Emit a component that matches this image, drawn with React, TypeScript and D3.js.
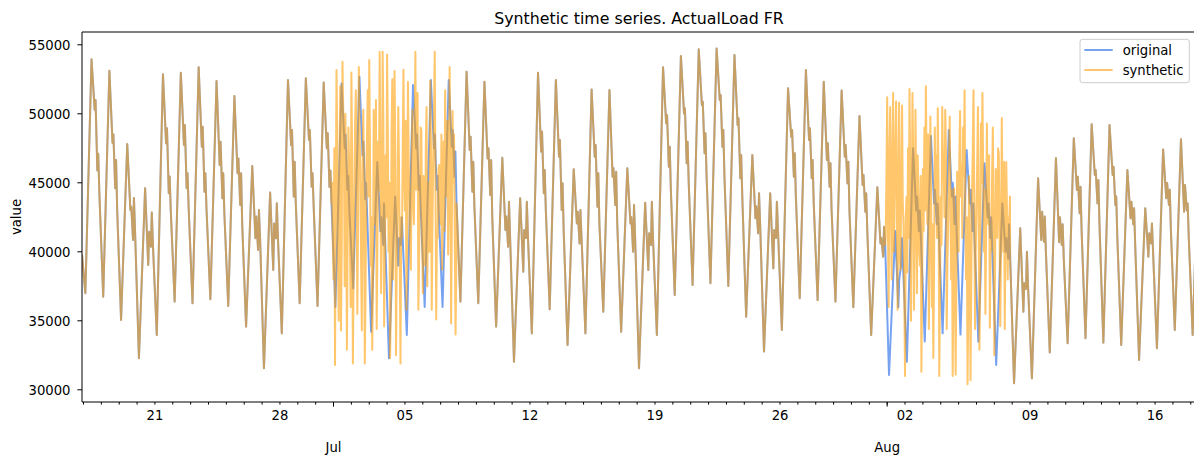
import React from "react";
import * as d3 from "d3";

// ---------------- data ----------------
const seriesStart = "2021-06-16T22:00:00Z";
const seriesEnd = "2021-08-18T07:00:00Z";
const firstDay = "2021-06-17T00:00:00Z";
const startValue = 39800;

// UTC hours of the read points inside each day: trough, peak, zig1 low, zig1 high, zig2 low, zig2 high, evening
const dayHours = [2.5, 10.8, 15, 16.2, 18.6, 19.8, 21.3];

// one entry per day, Jun 17 .. Aug 18 2021
const dayTroughs = [
  37000, 36750, 35060, 32280, 33970, 36390, 36270, 36560, 36080, 34580,
  31560, 34090, 36270, 36080, 36000, 37350, 34210, 32280, 33970, 36000,
  36000, 36390, 36270, 34580, 32040, 34090, 35830, 33250, 34090, 35660,
  34210, 31560, 33970, 36870, 37600, 37720, 37530, 35300, 32770, 34340,
  36630, 36500, 36390, 35980, 33970, 31070, 32040, 33500, 34090, 34000,
  33490, 31800, 30470, 30830, 32700, 33370, 33730, 33420, 33250, 32160,
  33010, 34340, 33970,
];
const dayPeaks = [
  53950, 53120, 47810, 44600, 52860, 52980, 53370, 52380, 51290, 46220,
  44290, 52450, 52570, 52260, 52200, 52690, 46500, 44000, 52090, 52450,
  52450, 53050, 52330, 46820, 43880, 52980, 52450, 45980, 51770, 51720,
  46050, 43560, 53370, 54190, 54670, 54740, 54260, 47020, 44240, 51850,
  53170, 52330, 51680, 49840, 44670, 41500, 47500, 48390, 48830, 47380,
  46410, 43500, 41700, 45330, 46800, 48220, 49240, 49190, 45930, 43150,
  47420, 48150, 48000,
];
const zig1Low = [
  50300, 47900, 43030, 39050, 47860, 47740, 47620, 46290, 45690, 40980,
  38680, 47740, 48100, 47500, 47500, 47000, 41500, 39000, 47500, 47500,
  47620, 47380, 46770, 41580, 38560, 47260, 46890, 42060, 46890, 45440,
  42060, 38680, 49310, 50030, 50640, 51000, 49190, 42430, 38800, 48340,
  48100, 46650, 46890, 44840, 40610, 35980, 43000, 43500, 44000, 43500,
  42500, 40000, 35660, 40860, 40700, 44480, 45570, 45570, 42430, 39650,
  43880, 42910, 44000,
];
const zig1High = [
  51000, 48500, 43270, 41460, 48950, 49190, 49070, 47980, 46770, 42550,
  42060, 48830, 48830, 48590, 48500, 48000, 42500, 41000, 48500, 48500,
  48830, 48340, 47500, 42550, 41580, 48710, 48100, 42910, 47740, 46050,
  42500, 41340, 49910, 50400, 50880, 51360, 49670, 43300, 41580, 48830,
  48950, 47860, 47740, 45570, 41000, 38000, 44000, 44500, 45000, 44500,
  43500, 41000, 37720, 42910, 42500, 45440, 45930, 46170, 43630, 41340,
  44980, 44840, 45000,
];
const zig2Low = [
  45900, 44600, 40860, 40370, 44240, 44600, 44360, 43880, 43400, 40130,
  40980, 44000, 44720, 44700, 44500, 43800, 40500, 40500, 44500, 44500,
  45450, 44360, 44120, 40370, 41000, 44240, 43030, 40610, 43270, 43390,
  40010, 40500, 46170, 46410, 47140, 47620, 45330, 41340, 41000, 45440,
  45330, 44720, 44960, 42910, 39650, 39000, 41500, 42000, 42000, 41500,
  41000, 39500, 37300, 40740, 40500, 42790, 43510, 43390, 42000, 40610,
  43400, 43000, 43000,
];
const zig2High = [
  47100, 46650, 43900, 42840, 45450, 45690, 45690, 45690, 45690, 43030,
  43510, 46530, 45690, 45900, 45500, 45000, 43500, 42500, 45500, 45500,
  47260, 46530, 46650, 43630, 43630, 45930, 44960, 43030, 45690, 45810,
  43390, 43630, 47620, 47980, 48590, 48830, 47020, 44240, 43630, 47140,
  46650, 46410, 46530, 44240, 41820, 41000, 43000, 43500, 44000, 43500,
  42500, 42000, 40010, 42550, 42000, 44720, 45200, 44000, 43150, 42060,
  44500, 43500, 44000,
];
const dayEvening = [
  44300, 43000, 41500, 40500, 43000, 43200, 43100, 42800, 42000, 41000,
  41000, 43500, 43300, 43500, 43000, 42500, 41000, 40500, 43000, 43000,
  43500, 43300, 42500, 41000, 41000, 43000, 41500, 41000, 42000, 42000,
  41000, 41000, 44500, 45000, 45500, 45500, 44000, 42000, 41500, 44000,
  43500, 43000, 43000, 41500, 40500, 39000, 41000, 41500, 41500, 41000,
  40000, 39500, 37500, 40000, 39500, 41500, 42000, 41000, 40500, 40000,
  41500, 41000, 41000,
];

// synthetic replacement windows, hourly values
const synthStepHours = 1;
const synthStart1 = "2021-06-30T22:00:00Z";
const synthWindow1 = [
  45000, 41000, 38000, 47500, 31800, 44000, 53170, 48000, 39000, 35000,
  45000, 52000, 34300, 40000, 53780, 50500, 47000, 37500, 50000, 44500,
  32900, 41500, 49000, 46500, 41000, 36000, 53000, 47000, 31900, 38500,
  44000, 49500, 51700, 45000, 35500, 42000, 53400, 49000, 46000, 39500,
  34300, 45500, 50300, 43000, 31900, 37000, 45000, 48500, 51700, 44000,
  53900, 47500, 39000, 42500, 32900, 38000, 50300, 46000, 42000, 51000,
  34400, 40500, 48000, 44500, 54500, 46000, 37000, 43000, 54500, 49500,
  34600, 39500, 47000, 42500, 54300, 48500, 40000, 45000, 32300, 36500,
  48800, 52500, 38000, 44000, 53100, 47000, 32500, 40000, 44000, 50500,
  46300, 39000, 31900, 42500, 41000, 47500, 53200, 45500, 43000, 49500,
  35800, 41000, 52300, 46500, 44000, 40500, 38700, 47000, 50300, 43500,
  42000, 48000, 54500, 44500, 47000, 51500, 35800, 39500, 44000, 49000,
  48800, 42500, 37000, 45500, 43000, 39000, 47600, 50500, 37500, 43000,
  45000, 40000, 52400, 47500, 35800, 42000, 47000, 50000, 54500, 45000,
  35100, 41500, 41000, 46000, 46300, 43500, 42000, 48500, 38700, 44000,
  48000, 41500, 51700, 46500, 44000, 49500, 39800, 43500, 53400, 47500,
  34800, 42000, 50200, 45000, 48500, 40500, 34000, 39000,
];
const synthStart2 = "2021-07-31T22:00:00Z";
const synthWindow2 = [
  41000, 45500, 51200, 42000, 36000, 47000, 50500, 44000, 38000, 46500,
  51500, 40000, 44000, 48000, 50900, 42500, 35800, 45000, 50800, 39500,
  38700, 46000, 50600, 43500, 42000, 37000, 31000, 42500, 44000, 38500,
  47500, 41000, 51800, 45500, 35000, 43000, 51500, 46500, 35800, 41500,
  50300, 44500, 37000, 47000, 44000, 40000, 39000, 45500, 31300, 38000,
  46000, 41500, 49000, 43000, 52000, 46000, 42000, 48500, 34400, 40500,
  49800, 44000, 36000, 42000, 32300, 38500, 49000, 44500, 47000, 41000,
  50400, 45000, 31000, 37500, 44000, 40500, 50500, 46500, 46000, 42500,
  50300, 47500, 34400, 39500, 42000, 46000, 49800, 43500, 38000, 44500,
  31000, 36500, 44600, 40000, 31100, 38000, 45800, 42000, 40000, 47000,
  50200, 44000, 46300, 41000, 49000, 45500, 51700, 43000, 38000, 42500,
  30400, 36000, 45500, 41000, 30700, 37500, 44000, 47500, 51700, 44000,
  34400, 40000, 43000, 46500, 50500, 42000, 32900, 38500, 49300, 45000,
  51500, 46000, 40000, 44500, 35500, 41500, 49300, 43500, 42000, 47000,
  34500, 40500, 40000, 45500, 49000, 42500, 32500, 39000, 46000, 43000,
  41000, 47500, 47100, 42000, 34600, 40500, 49700, 44000, 40000, 46500,
  34400, 41000, 46500, 43000, 38000, 42500, 42000, 44000,
];

const yTickValues = [30000, 35000, 40000, 45000, 50000, 55000];
const yDomain = [29116, 55928];
const titleText = "Synthetic time series. ActualLoad FR";
const yLabel = "value";
const legendLabels = ["original", "synthetic"];

// ---------------- build series ----------------
type Pt = { t: Date; v: number };
const HOUR = 3600e3;

function buildOriginal(): Pt[] {
  const pts: Pt[] = [{ t: new Date(seriesStart), v: startValue }];
  const d0 = +new Date(firstDay);
  for (let d = 0; d < dayTroughs.length; d++) {
    const vals = [dayTroughs[d], dayPeaks[d], zig1Low[d], zig1High[d], zig2Low[d], zig2High[d], dayEvening[d]];
    vals.forEach((v, k) => pts.push({ t: new Date(d0 + d * 24 * HOUR + dayHours[k] * HOUR), v }));
  }
  return pts;
}

function buildSynthetic(orig: Pt[]): Pt[] {
  const wins = [
    { s: +new Date(synthStart1), vals: synthWindow1 },
    { s: +new Date(synthStart2), vals: synthWindow2 },
  ];
  const out: Pt[] = orig.filter((p) =>
    !wins.some((w) => +p.t >= w.s && +p.t <= w.s + (w.vals.length - 1) * synthStepHours * HOUR)
  );
  wins.forEach((w) => w.vals.forEach((v, i) => out.push({ t: new Date(w.s + i * synthStepHours * HOUR), v })));
  out.sort((a, b) => +a.t - +b.t);
  return out;
}

const original = buildOriginal();
const synthetic = buildSynthetic(original);

// ---------------- chart ----------------
const W = 1194, H = 458;
const L = 82, T = 32, R = 1196, B = 402;
const FONT = "DejaVu Sans, sans-serif";
const FS = 13.2;
const BLUE = "#6495ED";
const ORANGE = "#FF9C00";
const BLUE_OP = 0.88;
const ORANGE_OP = 0.58;

export default function App() {
  const x = d3.scaleUtc().domain([new Date(seriesStart), new Date(seriesEnd)]).range([L, R]);
  const y = d3.scaleLinear().domain(yDomain).range([B, T]);
  const line = d3.line<Pt>().x((d) => x(d.t)).y((d) => y(d.v));

  const [x0, x1] = x.domain();
  const minorTicks = d3.utcDay.range(x0, x1);
  const majorTicks = d3.utcMonth.range(x0, x1);
  const weekTicks = d3.utcMonday.range(x0, x1).filter((t) => t.getUTCDate() !== 1);
  const fmtDay = d3.utcFormat("%d");
  const fmtMonth = d3.utcFormat("%b");

  return (
    <svg width={W} height={H} style={{ position: "absolute", left: 0, top: 0, background: "#fff" }} fontFamily={FONT}>
      <rect x={0} y={0} width={W} height={H} fill="#fff" />
      <defs>
        <clipPath id="plotclip">
          <rect x={L} y={T} width={R - L} height={B - T} />
        </clipPath>
      </defs>
      <g clipPath="url(#plotclip)">
        <path d={line(original) || ""} fill="none" stroke={BLUE} strokeOpacity={BLUE_OP} strokeWidth={2} strokeLinejoin="round" />
        <path d={line(synthetic) || ""} fill="none" stroke={ORANGE} strokeOpacity={ORANGE_OP} strokeWidth={2} strokeLinejoin="round" />
      </g>
      {/* spines */}
      <line x1={L} y1={T} x2={R} y2={T} stroke="#000" strokeWidth={1} />
      <line x1={L} y1={T} x2={L} y2={B} stroke="#000" strokeWidth={1} />
      <line x1={L} y1={B} x2={R} y2={B} stroke="#000" strokeWidth={1} />
      <line x1={R} y1={T} x2={R} y2={B} stroke="#000" strokeWidth={1} />
      {/* y axis */}
      {yTickValues.map((v) => (
        <g key={v}>
          <line x1={L - 4.6} x2={L} y1={y(v)} y2={y(v)} stroke="#000" strokeWidth={1} />
          <text x={L - 11.5} y={y(v)} dy="0.36em" textAnchor="end" fontSize={FS} fill="#000">{v}</text>
        </g>
      ))}
      <text transform={`translate(21,${(T + B) / 2}) rotate(-90)`} textAnchor="middle" fontSize={FS} fill="#000">{yLabel}</text>
      {/* x axis */}
      {minorTicks.map((t) => (
        <line key={+t} x1={x(t)} x2={x(t)} y1={B} y2={B + 2.6} stroke="#000" strokeWidth={1} />
      ))}
      {majorTicks.map((t) => (
        <g key={+t}>
          <line x1={x(t)} x2={x(t)} y1={B} y2={B + 4.6} stroke="#000" strokeWidth={1} />
          <text x={x(t)} y={452} textAnchor="middle" fontSize={FS} fill="#000">{fmtMonth(t)}</text>
        </g>
      ))}
      {weekTicks.map((t) => (
        <text key={+t} x={x(t)} y={420} textAnchor="middle" fontSize={FS} fill="#000">{fmtDay(t)}</text>
      ))}
      {/* title */}
      <text x={(L + R) / 2} y={24} textAnchor="middle" fontSize={15.8} fill="#000">{titleText}</text>
      {/* legend */}
      <g>
        <rect x={1080} y={39.3} width={109.3} height={43.4} rx={2.6} fill="#fff" fillOpacity={0.8} stroke="#cccccc" strokeWidth={1} />
        <line x1={1084.3} x2={1112.7} y1={50} y2={50} stroke={BLUE} strokeOpacity={BLUE_OP} strokeWidth={2} />
        <line x1={1084.3} x2={1112.7} y1={70} y2={70} stroke={ORANGE} strokeOpacity={ORANGE_OP} strokeWidth={2} />
        <text x={1122.7} y={50} dy="0.36em" fontSize={FS} fill="#000">{legendLabels[0]}</text>
        <text x={1122.7} y={70} dy="0.36em" fontSize={FS} fill="#000">{legendLabels[1]}</text>
      </g>
    </svg>
  );
}
